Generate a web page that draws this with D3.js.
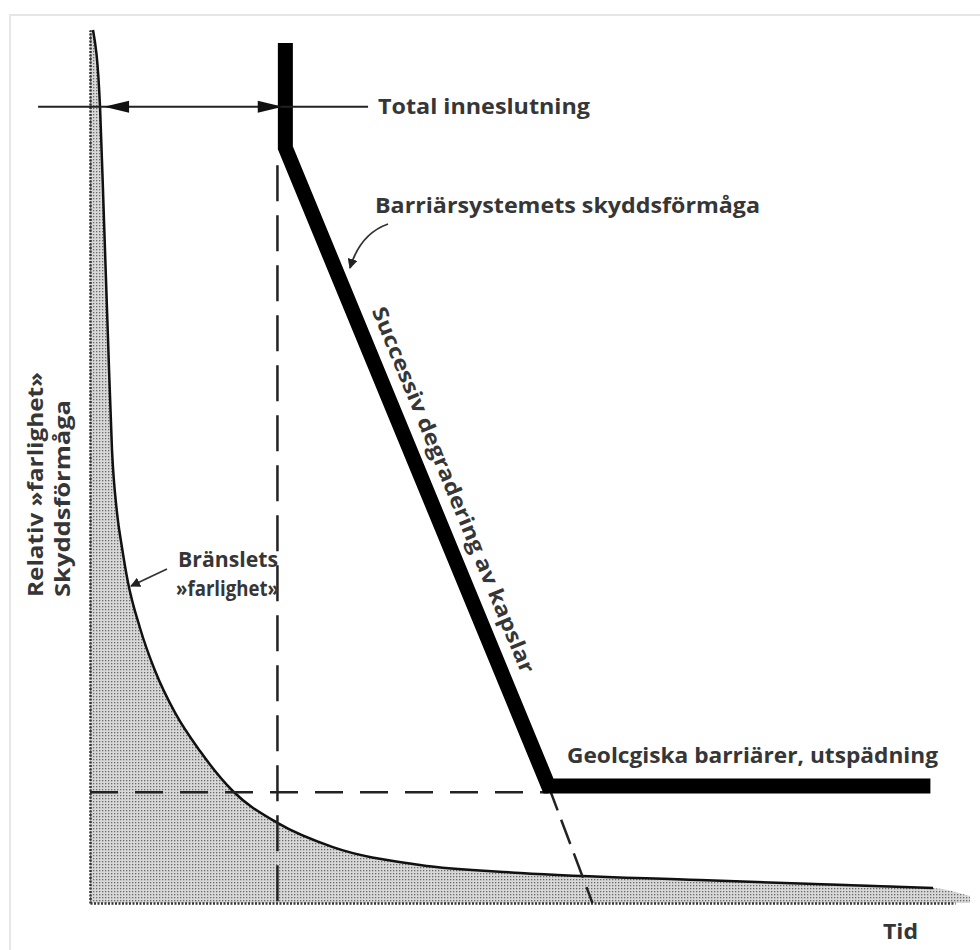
<!DOCTYPE html>
<html>
<head>
<meta charset="utf-8">
<script src="https://cdn.jsdelivr.net/npm/d3@7"></script>
<style>
  body { margin: 0; background: #fff; }
  text { font-family: "Open Sans", "DejaVu Sans", sans-serif; font-weight: 700; fill: #363636; }
</style>
</head>
<body>
<svg id="chart" width="980" height="950"></svg>
<script>
// ---------------------------------------------------------------
//   Data (time and relative level, both 0..100)
// ---------------------------------------------------------------
var hazardTime  = [0.34, 1.14, 1.59, 2.05, 2.5, 3.07, 3.64, 4.32, 5.68, 7.39, 9.66, 12.5, 16.25, 21.25, 27.6, 37.5, 48.9, 69.3, 95.8];
var hazardLevel = [100, 91.2, 78.2, 64.5, 51.9, 44.7, 40.7, 36.7, 31.5, 26.6, 21.8, 17.4, 12.8, 9.2, 6.4, 4.35, 3.44, 2.63, 1.72];
var hazardTailTime = 100, hazardTailLevel = 0.8;

var barrierTime  = [22.2, 22.2, 52.1, 95.5];
var barrierLevel = [98.5, 86.5, 13.4, 13.4];

var degradeTime  = [52.1, 57.1];
var degradeLevel = [13.4, 0];

var containmentEnd = 21.3;          // vertical dashed line (end of total containment)
var geologyLevel   = 12.7;          // horizontal dashed line
var totalLevel     = 91.2;          // "Total inneslutning" line
var totalSpan      = [-5.9, 31.6];
var totalArrows    = [1.6, 21.9];

var svg = d3.select("#chart");

var xScale = d3.scaleLinear().domain([0, 100]).range([90, 970]);
var yScale = d3.scaleLinear().domain([0, 100]).range([903, 30]);

// frame of the scan
svg.append("rect")
    .attr("x", 10).attr("y", 15)
    .attr("width", 985).attr("height", 950)
    .style("fill", "none")
    .style("stroke", "#e6e6e6")
    .style("stroke-width", 2);

var defs = svg.append("defs");
var pat = defs.append("pattern")
    .attr("id", "dots")
    .attr("width", 3).attr("height", 3)
    .attr("patternUnits", "userSpaceOnUse");
pat.append("rect").attr("width", 3).attr("height", 3).style("fill", "#d8d8d8");
pat.append("rect").attr("width", 1.3).attr("height", 1.3).style("fill", "#6a6a6a");

defs.append("marker")
    .attr("id", "head")
    .attr("viewBox", "0 0 10 10")
    .attr("refX", 9).attr("refY", 5)
    .attr("markerWidth", 10).attr("markerHeight", 10)
    .attr("markerUnits", "userSpaceOnUse")
    .attr("orient", "auto")
  .append("path")
    .attr("d", "M0,0 L10,5 L0,10 Z")
    .style("fill", "#222");

defs.append("clipPath")
    .attr("id", "cut")
  .append("rect")
    .attr("x", 0).attr("y", 0)
    .attr("width", 980).attr("height", 673);

// ---------------------------------------------------------------
//   Fuel hazard area and curve
// ---------------------------------------------------------------
var hazard = hazardTime.map(function(t, i) { return [t, hazardLevel[i]]; });
var hazardArea = [[0, 100]].concat(hazard).concat([[hazardTailTime, hazardTailLevel]]);

svg.append("path")
    .datum(hazardArea)
    .attr("d", d3.area()
        .x(function(d) { return xScale(d[0]); })
        .y0(yScale(0))
        .y1(function(d) { return yScale(d[1]); })
        .curve(d3.curveMonotoneX))
    .style("fill", "url(#dots)");

svg.append("path")
    .datum(hazard)
    .attr("d", d3.line()
        .x(function(d) { return xScale(d[0]); })
        .y(function(d) { return yScale(d[1]); })
        .curve(d3.curveMonotoneX))
    .style("fill", "none")
    .style("stroke", "#111")
    .style("stroke-width", 2.5);

// axes: bare dotted edges, no ticks
var yAxis = svg.append("g")
    .attr("transform", "translate(" + xScale(0) + ",0)")
    .call(d3.axisLeft(yScale).ticks(0).tickSizeOuter(0));
var xAxis = svg.append("g")
    .attr("transform", "translate(0," + yScale(0) + ")")
    .call(d3.axisBottom(xScale.copy().domain([0, 98]).range([90, 955])).ticks(0).tickSizeOuter(0));
svg.selectAll(".domain")
    .style("stroke", "#333")
    .style("stroke-width", 2.5)
    .style("stroke-dasharray", "2,1.5");

// ---------------------------------------------------------------
//   Dashed reference lines
// ---------------------------------------------------------------
svg.append("line")
    .attr("x1", xScale(containmentEnd)).attr("y1", yScale(84.5))
    .attr("x2", xScale(containmentEnd)).attr("y2", yScale(0))
    .style("stroke", "#222")
    .style("stroke-width", 2.5)
    .style("stroke-dasharray", "36,14");

svg.append("line")
    .attr("x1", xScale(0)).attr("y1", yScale(geologyLevel))
    .attr("x2", xScale(degradeTime[0])).attr("y2", yScale(geologyLevel))
    .style("stroke", "#222")
    .style("stroke-width", 2.5)
    .style("stroke-dasharray", "28,17");

svg.append("line")
    .attr("x1", xScale(degradeTime[0])).attr("y1", yScale(degradeLevel[0]))
    .attr("x2", xScale(degradeTime[1])).attr("y2", yScale(degradeLevel[1]))
    .style("stroke", "#222")
    .style("stroke-width", 2.5)
    .style("stroke-dasharray", "26,10");

// ---------------------------------------------------------------
//   Barrier system (thick line)
// ---------------------------------------------------------------
var barrier = barrierTime.map(function(t, i) { return [t, barrierLevel[i]]; });
svg.append("path")
    .datum(barrier)
    .attr("d", d3.line()
        .x(function(d) { return xScale(d[0]); })
        .y(function(d) { return yScale(d[1]); }))
    .style("fill", "none")
    .style("stroke", "#000")
    .style("stroke-width", 15)
    .style("stroke-linejoin", "miter");

// ---------------------------------------------------------------
//   Total containment line with arrows
// ---------------------------------------------------------------
var ty = yScale(totalLevel);
svg.append("line")
    .attr("x1", xScale(totalSpan[0])).attr("y1", ty)
    .attr("x2", xScale(totalSpan[1])).attr("y2", ty)
    .style("stroke", "#222")
    .style("stroke-width", 2);

var lx = xScale(totalArrows[0]), rx = xScale(totalArrows[1]);
svg.append("path")
    .attr("d", "M" + lx + "," + ty + " L" + (lx + 25) + "," + (ty - 6) + " L" + (lx + 25) + "," + (ty + 6) + " Z")
    .style("fill", "#111");
svg.append("path")
    .attr("d", "M" + rx + "," + ty + " L" + (rx - 25) + "," + (ty - 6) + " L" + (rx - 25) + "," + (ty + 6) + " Z")
    .style("fill", "#111");

// ---------------------------------------------------------------
//   Labels
// ---------------------------------------------------------------
function label(txt, x, y, len, size) {
  return svg.append("text")
      .attr("x", x).attr("y", y)
      .attr("textLength", len)
      .attr("lengthAdjust", "spacingAndGlyphs")
      .style("font-size", size + "px")
      .text(txt);
}

label("Total inneslutning", 378, 114, 212, 22);
label("Barriärsystemets skyddsförmåga", 375, 213, 385, 22);
label("Bränslets", 178, 567, 100, 22);
label("\u00bbfarlighet\u00bb", 176, 596, 103, 22);
label("Geolcgiska barriärer, utspädning", 567, 763, 371, 22);
label("Tid", 883, 939, 35, 22);

svg.append("text")
    .attr("transform", "translate(43,597) rotate(-90)")
    .attr("textLength", 225)
    .attr("lengthAdjust", "spacingAndGlyphs")
    .style("font-size", "22px")
    .text("Relativ \u00bbfarlighet\u00bb");
svg.append("text")
    .attr("transform", "translate(70,597) rotate(-90)")
    .attr("textLength", 197)
    .attr("lengthAdjust", "spacingAndGlyphs")
    .style("font-size", "22px")
    .text("Skyddsförmåga");

// rotated label along the degrading line
var angle = Math.atan2(yScale(barrierLevel[2]) - yScale(barrierLevel[1]),
                       xScale(barrierTime[2]) - xScale(barrierTime[1])) * 180 / Math.PI;
svg.append("g")
    .attr("clip-path", "url(#cut)")
  .append("text")
    .attr("transform", "translate(453,490) rotate(" + angle + ")")
    .attr("y", 7)
    .attr("text-anchor", "middle")
    .attr("textLength", 394)
    .attr("lengthAdjust", "spacingAndGlyphs")
    .style("font-size", "21px")
    .text("Successiv degradering av kapslar");

// pointer arrows
svg.append("path")
    .attr("d", "M388,224 Q360,234 350,268")
    .style("fill", "none")
    .style("stroke", "#333")
    .style("stroke-width", 1.8)
    .attr("marker-end", "url(#head)");

svg.append("path")
    .attr("d", "M167,569 L131,586")
    .style("fill", "none")
    .style("stroke", "#333")
    .style("stroke-width", 1.8)
    .attr("marker-end", "url(#head)");
</script>
</body>
</html>
